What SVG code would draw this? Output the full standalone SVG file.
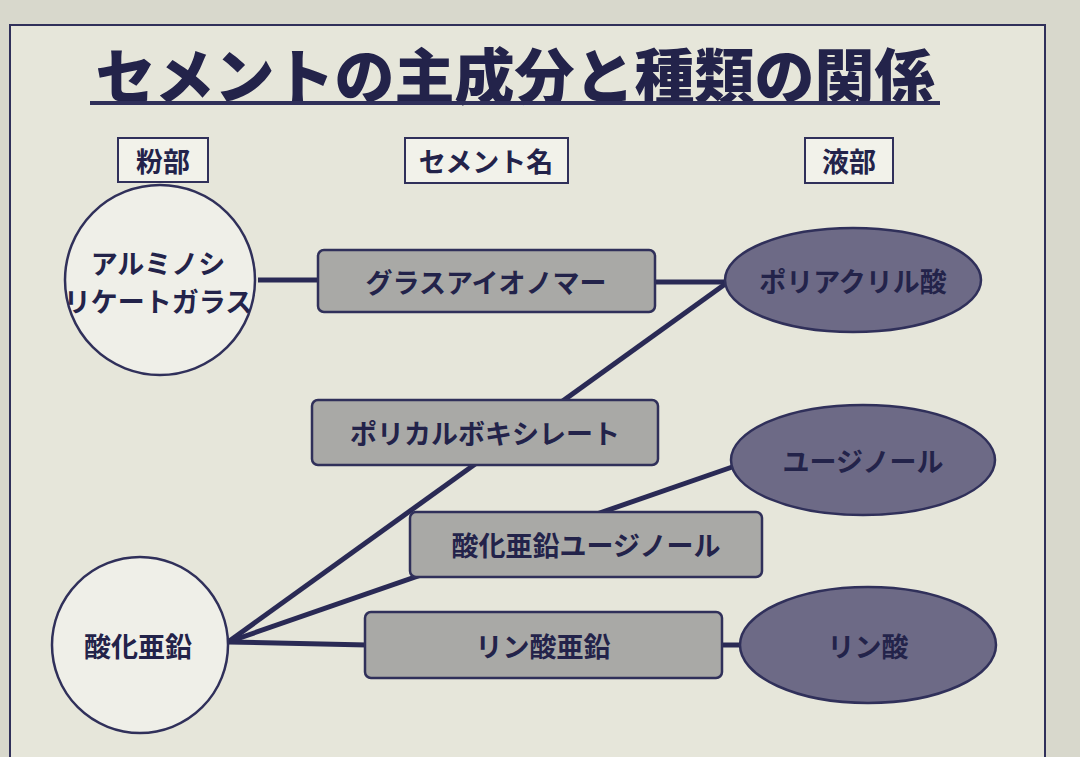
<svg xmlns="http://www.w3.org/2000/svg" width="1080" height="757" viewBox="0 0 1080 757">
<style>
text{font-family:"Noto Sans CJK JP","Noto Sans CJK SC",sans-serif;font-weight:bold;fill:#23234a;text-anchor:middle;dominant-baseline:central}
.hd{fill:#f2f2ea;stroke:#30305a;stroke-width:2}
.rc{fill:#a9a9a6;stroke:#30305a;stroke-width:2.5}
.ci{fill:#efefe8;stroke:#30305a;stroke-width:2.5}
.el{fill:#6d6a86;stroke:#30305a;stroke-width:2.5}
.t{font-size:27px}
</style>
<rect width="1080" height="757" fill="#d8d8cc"/>
<rect x="10" y="25" width="1035" height="740" fill="#e6e6da" stroke="#30305a" stroke-width="2"/>
<g id="title"><text x="515" y="72" style="font-size:60px;font-weight:900">セメントの主成分と種類の関係</text>
<line x1="90" y1="103" x2="940" y2="103" stroke="#30305a" stroke-width="4"/></g>
<g id="connectors" stroke="#2a2a55" stroke-width="5" fill="none">
<line x1="258" y1="280" x2="320" y2="280"/>
<line x1="654" y1="282" x2="728" y2="282"/>
<line x1="228" y1="642" x2="728" y2="282"/>
<line x1="228" y1="642" x2="738" y2="465"/>
<line x1="228" y1="642" x2="367" y2="645"/>
<line x1="720" y1="645" x2="742" y2="645"/>
</g>
<g id="h1"><rect class="hd" x="118" y="138" width="90" height="44"/><text class="t" x="163" y="160">粉部</text></g>
<g id="h2"><rect class="hd" x="405" y="138" width="163" height="45"/><text class="t" x="486" y="160">セメント名</text></g>
<g id="h3"><rect class="hd" x="805" y="138" width="88" height="45"/><text class="t" x="849" y="160">液部</text></g>
<g id="glass"><circle class="ci" cx="160" cy="280" r="95"/><text class="t" x="158" y="262">アルミノシ</text><text class="t" x="158" y="300">リケートガラス</text></g>
<g id="zno"><circle class="ci" cx="140" cy="645" r="88"/><text class="t" x="138" y="645">酸化亜鉛</text></g>
<g id="gi"><rect class="rc" x="318" y="250" width="337" height="62" rx="6"/><text class="t" x="486" y="281">グラスアイオノマー</text></g>
<g id="pc"><rect class="rc" x="312" y="400" width="346" height="65" rx="6"/><text class="t" x="485" y="432">ポリカルボキシレート</text></g>
<g id="zoe"><rect class="rc" x="410" y="512" width="352" height="65" rx="6"/><text class="t" x="586" y="544">酸化亜鉛ユージノール</text></g>
<g id="zp"><rect class="rc" x="365" y="612" width="357" height="66" rx="6"/><text class="t" x="543" y="645">リン酸亜鉛</text></g>
<g id="paa"><ellipse class="el" cx="853" cy="280" rx="128" ry="52"/><text class="t" x="853" y="280">ポリアクリル酸</text></g>
<g id="eug"><ellipse class="el" cx="863" cy="460" rx="132" ry="55"/><text class="t" x="863" y="460">ユージノール</text></g>
<g id="pa"><ellipse class="el" cx="868" cy="645" rx="128" ry="58"/><text class="t" x="868" y="645">リン酸</text></g>
</svg>
